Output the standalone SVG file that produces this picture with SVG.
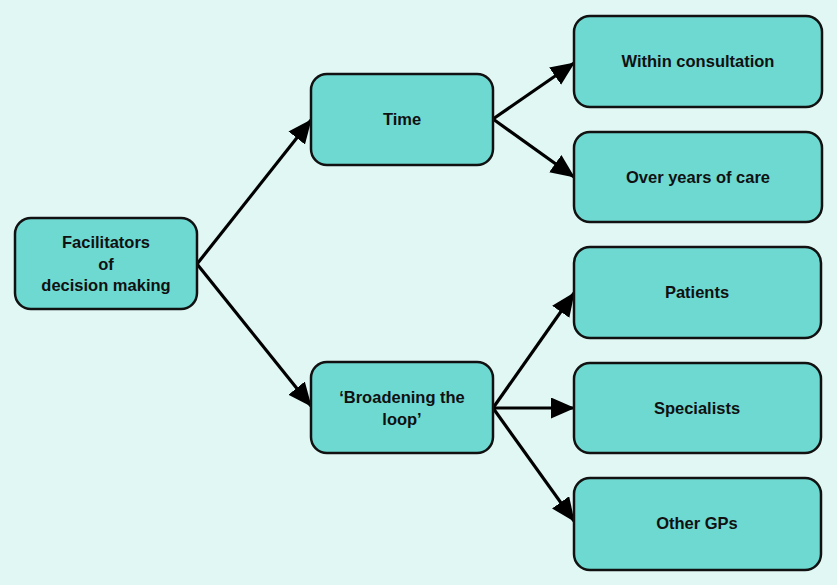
<svg xmlns="http://www.w3.org/2000/svg" width="837" height="585" viewBox="0 0 837 585">
<style>
.box{fill:#6dd9d1;stroke:#111;stroke-width:2.5}
.t{font-family:"Liberation Sans",Arial,sans-serif;font-weight:bold;font-size:16.5px;fill:#111;text-anchor:middle}
.c{stroke:#000;stroke-width:3.2;fill:none;marker-end:url(#ah)}
</style>
<defs>
<marker id="ah" markerUnits="userSpaceOnUse" markerWidth="26" markerHeight="24" refX="23" refY="10.5" orient="auto">
<path d="M0,0 L24,10.5 L0,21 Z" fill="#000"/>
</marker>
</defs>
<rect width="837" height="585" fill="#e1f7f4"/>
<g id="connectors">
<line class="c" x1="197" y1="264" x2="311" y2="120"/>
<line class="c" x1="197" y1="264" x2="311" y2="406"/>
<line class="c" x1="493" y1="119" x2="574" y2="63"/>
<line class="c" x1="493" y1="119" x2="574" y2="177"/>
<line class="c" x1="493" y1="408" x2="574" y2="293"/>
<line class="c" x1="493" y1="408" x2="574" y2="408"/>
<line class="c" x1="493" y1="408" x2="574" y2="521"/>
</g>
<g id="facilitators">
<rect class="box" x="15" y="218" width="182" height="91" rx="16"/>
<text class="t" x="106" y="248">Facilitators</text>
<text class="t" x="106" y="270">of</text>
<text class="t" x="106" y="291">decision making</text>
</g>
<g id="time">
<rect class="box" x="311" y="74" width="182" height="91" rx="16"/>
<text class="t" x="402" y="125">Time</text>
</g>
<g id="broadening">
<rect class="box" x="311" y="362" width="182" height="91" rx="16"/>
<text class="t" x="402" y="403">‘Broadening the</text>
<text class="t" x="402" y="425">loop’</text>
</g>
<g id="within">
<rect class="box" x="574" y="16" width="248" height="91" rx="16"/>
<text class="t" x="698" y="67">Within consultation</text>
</g>
<g id="overyears">
<rect class="box" x="574" y="132" width="248" height="90" rx="16"/>
<text class="t" x="698" y="183">Over years of care</text>
</g>
<g id="patients">
<rect class="box" x="574" y="247" width="247" height="91" rx="16"/>
<text class="t" x="697" y="298">Patients</text>
</g>
<g id="specialists">
<rect class="box" x="574" y="363" width="247" height="90" rx="16"/>
<text class="t" x="697" y="414">Specialists</text>
</g>
<g id="othergps">
<rect class="box" x="574" y="478" width="247" height="92" rx="16"/>
<text class="t" x="697" y="529">Other GPs</text>
</g>
</svg>
